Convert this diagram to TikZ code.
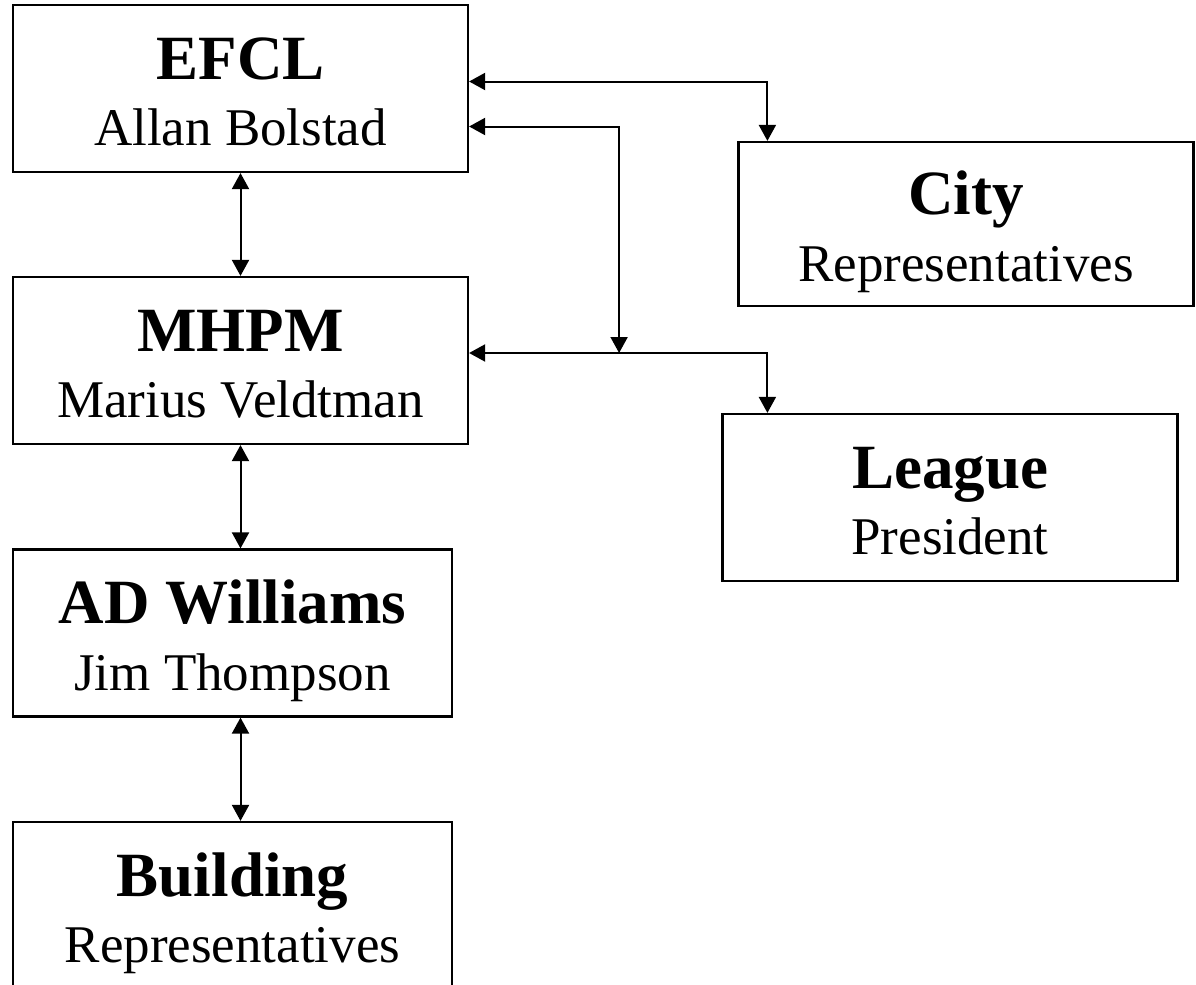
\documentclass[tikz,border=0pt]{standalone}
\usepackage{fontspec}
\setmainfont{Liberation Serif}
\usetikzlibrary{calc}
\usetikzlibrary{arrows.meta}

\begin{document}
\begin{tikzpicture}[x=0.5pt,y=-0.5pt,
  box/.style={draw,line width=1.1pt,minimum width=227.5pt,minimum height=83.5pt,inner sep=0pt},
  narrowbox/.style={box,minimum width=219.5pt},
  head/.style={anchor=base,inner sep=0pt,font=\fontsize{31.5}{36}\selectfont\bfseries},
  sub/.style={anchor=base,inner sep=0pt,font=\fontsize{26.5}{30}\selectfont},
  link/.style={line width=1pt,{Triangle[length=8pt,width=8.5pt]}-{Triangle[length=8pt,width=8.5pt]}}]
  \useasboundingbox (0,0) rectangle (1196,985);

  % left column
  \node[box] (efcl) at (240.5,88.5) {};
  \node[head] (efclT) at ($(efcl.center)+(0,-9.5)$) {EFCL};
  \node[sub] (efclS) at ($(efcl.center)+(0,57)$) {Allan Bolstad};

  \node[box] (mhpm) at (240.5,360.5) {};
  \node[head] (mhpmT) at ($(mhpm.center)+(0,-9.5)$) {MHPM};
  \node[sub] (mhpmS) at ($(mhpm.center)+(0,57)$) {Marius Veldtman};

  \node[narrowbox] (adw) at (232.5,633) {};
  \node[head] (adwT) at ($(adw.center)+(0,-9.5)$) {AD Williams};
  \node[sub] (adwS) at ($(adw.center)+(0,57)$) {Jim Thompson};

  \node[narrowbox] (bldg) at (232.5,905.5) {};
  \node[head] (bldgT) at ($(bldg.center)+(0,-9.5)$) {Building};
  \node[sub] (bldgS) at ($(bldg.center)+(0,57)$) {Representatives};

  % right column
  \node[box,minimum height=82pt] (city) at (966,224) {};
  \node[head] (cityT) at ($(city.center)+(0,-9.5)$) {City};
  \node[sub] (cityS) at ($(city.center)+(0,57)$) {Representatives};

  \node[box] (league) at (950,497.5) {};
  \node[head] (leagueT) at ($(league.center)+(0,-9.5)$) {League};
  \node[sub] (leagueS) at ($(league.center)+(0,57)$) {President};

  % connectors
  \coordinate (efclA) at ($(efcl.east)+(0,-7)$);
  \coordinate (efclB) at ($(efcl.east)+(0,38)$);
  \coordinate (mhpmA) at ($(mhpm.east)+(0,-7.5)$);
  \coordinate (junc) at ($(mhpmA)+(150,0)$);
  \coordinate (cityIn) at ($(city.north west)+(30,0)$);
  \coordinate (leagueIn) at ($(league.north west)+(46,0)$);

  \draw[link] (efcl.south) -- (mhpm.north);
  \draw[link] (mhpm.south) -- (mhpm.south |- adw.north);
  \draw[link] (mhpm.south |- adw.south) -- (mhpm.south |- bldg.north);
  \draw[link] (efclA) -| (cityIn);
  \draw[link] (efclB) -| (junc);
  \draw[link] (mhpmA) -| (leagueIn);
\end{tikzpicture}
\end{document}
